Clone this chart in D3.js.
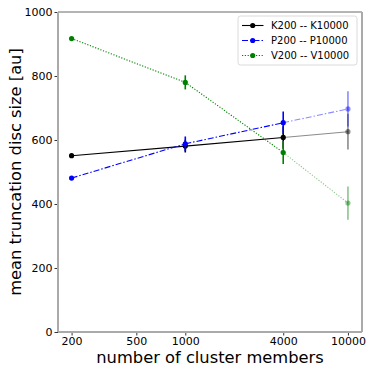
<!DOCTYPE html>
<html>
<head>
<meta charset="utf-8">
<script src="https://cdn.jsdelivr.net/npm/d3@7"></script>
<style>
  body { margin: 0; background: #fff; }
  text { font-family: "DejaVu Sans", sans-serif; fill: #000; }
</style>
</head>
<body>
<div id="chart"></div>
<script>
// data
const members = [200, 1000, 4000, 10000];
const xTicks = [200, 500, 1000, 4000, 10000];
const yTicks = [0, 200, 400, 600, 800, 1000];
const kValues = [551, 581, 608, 626];
const kErrors = [6, 20, 35, 56];
const pValues = [481, 588, 654, 697];
const pErrors = [5, 23, 35, 55];
const vValues = [917, 780, 561, 403];
const vErrors = [5, 22, 36, 52];
const labels = ['K200 -- K10000', 'P200 -- P10000', 'V200 -- V10000'];

const W = 374, H = 374;
const margin = { top: 12, right: 12, bottom: 42, left: 58 };
const width = W - margin.left - margin.right;
const height = H - margin.top - margin.bottom;

const svg = d3.select('#chart')
    .append('svg')
    .attr('width', W)
    .attr('height', H);

const g = svg.append('g')
    .attr('transform', 'translate(' + margin.left + ',' + margin.top + ')');

const x = d3.scaleLog().domain([165, 12200]).range([0, width]);
const y = d3.scaleLinear().domain([0, 1000]).range([height, 0]);

const series = [
    { name: labels[0], values: kValues, errors: kErrors, color: '#000000', dash: null },
    { name: labels[1], values: pValues, errors: pErrors, color: '#0000ff', dash: '6,2,1.5,2' },
    { name: labels[2], values: vValues, errors: vErrors, color: '#008000', dash: '1.2,1.6' },
];

// the last point of every series is drawn faded
const alphaAt = i => (i === members.length - 1 ? 0.45 : 1);

series.forEach(s => {
    const pts = members.map((m, i) => ({ m: m, v: s.values[i], e: s.errors[i], i: i }));
    const sg = g.append('g');
    // segments
    for (let i = 0; i < pts.length - 1; i++) {
        sg.append('line')
            .attr('x1', x(pts[i].m)).attr('y1', y(pts[i].v))
            .attr('x2', x(pts[i + 1].m)).attr('y2', y(pts[i + 1].v))
            .attr('stroke', s.color)
            .attr('stroke-width', 1.1)
            .attr('stroke-dasharray', s.dash)
            .attr('opacity', alphaAt(i + 1));
    }
    // error bars
    sg.selectAll('.err')
        .data(pts)
        .enter()
        .append('line')
        .attr('x1', d => x(d.m)).attr('x2', d => x(d.m))
        .attr('y1', d => y(d.v - d.e)).attr('y2', d => y(d.v + d.e))
        .attr('stroke', s.color)
        .attr('stroke-width', 1.6)
        .attr('opacity', d => alphaAt(d.i));
    // markers
    sg.selectAll('circle')
        .data(pts)
        .enter()
        .append('circle')
        .attr('cx', d => x(d.m))
        .attr('cy', d => y(d.v))
        .attr('r', 2.6)
        .attr('fill', s.color)
        .attr('opacity', d => alphaAt(d.i));
});

// axes
const xAxis = g.append('g')
    .attr('transform', 'translate(0,' + height + ')')
    .call(d3.axisBottom(x).tickValues(xTicks).tickFormat(d3.format('d')).tickSize(3.5).tickPadding(2));
const yAxis = g.append('g')
    .call(d3.axisLeft(y).tickValues(yTicks).tickFormat(d3.format('d')).tickSize(3.5).tickPadding(2));
[xAxis, yAxis].forEach(a => {
    a.select('.domain').remove();
    a.selectAll('text').style('font-size', '11px').style('font-family', '"DejaVu Sans", sans-serif');
    a.selectAll('line').attr('stroke', '#000').attr('stroke-width', 0.8);
});

// spines
g.append('line').attr('x1', 0).attr('x2', width).attr('y1', 0).attr('y2', 0)
    .attr('stroke', '#444').attr('stroke-width', 0.8);
g.append('line').attr('x1', 0).attr('x2', 0).attr('y1', 0).attr('y2', height)
    .attr('stroke', '#aaa').attr('stroke-width', 2);
g.append('line').attr('x1', width).attr('x2', width).attr('y1', 0).attr('y2', height)
    .attr('stroke', '#aaa').attr('stroke-width', 2);
g.append('line').attr('x1', 0).attr('x2', width).attr('y1', height).attr('y2', height)
    .attr('stroke', '#aaa').attr('stroke-width', 2);

// axis labels
svg.append('text')
    .attr('x', margin.left + width / 2)
    .attr('y', 363)
    .attr('text-anchor', 'middle')
    .style('font-size', '16.3px')
    .text('number of cluster members');
svg.append('text')
    .attr('transform', 'translate(21,' + (margin.top + height / 2) + ') rotate(-90)')
    .attr('text-anchor', 'middle')
    .style('font-size', '16.3px')
    .text('mean truncation disc size [au]');

// legend
const lg = svg.append('g').attr('transform', 'translate(238,16)');
lg.append('rect')
    .attr('width', 119).attr('height', 49)
    .attr('rx', 2.5)
    .attr('fill', '#fff')
    .attr('fill-opacity', 0.8)
    .attr('stroke', '#d0d0d0')
    .attr('stroke-width', 0.8);
series.forEach((s, i) => {
    const ry = 9.5 + i * 15;
    lg.append('line')
        .attr('x1', 4).attr('x2', 25.5)
        .attr('y1', ry).attr('y2', ry)
        .attr('stroke', s.color)
        .attr('stroke-width', 1.1)
        .attr('stroke-dasharray', s.dash);
    lg.append('circle')
        .attr('cx', 14.7).attr('cy', ry).attr('r', 2.6)
        .attr('fill', s.color);
    lg.append('text')
        .attr('x', 33).attr('y', ry + 3.6)
        .style('font-size', '10px')
        .text(s.name);
});
</script>
</body>
</html>
